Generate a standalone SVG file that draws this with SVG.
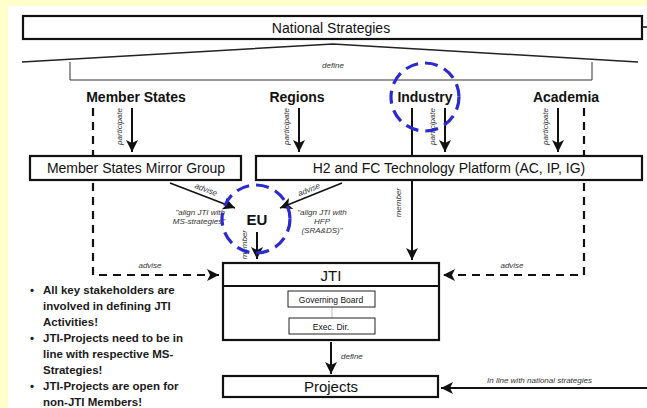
<svg xmlns="http://www.w3.org/2000/svg" width="647" height="408" viewBox="0 0 647 408">
<defs>
<style>
text{font-family:"Liberation Sans",Arial,sans-serif;fill:#111}
.box{fill:#fff;stroke:#111;stroke-width:2.2}
.thin{fill:#fff;stroke:#222;stroke-width:1}
.ln{fill:none;stroke:#111;stroke-width:2}
.dash{fill:none;stroke:#111;stroke-width:2.2;stroke-dasharray:8 6}
.lbl{font-size:14px;text-anchor:middle}
.hd{font-size:14px;font-weight:bold;text-anchor:middle}
.sm{font-size:8px;font-style:italic;fill:#333}
.blue{fill:none;stroke:#2a2ad0;stroke-width:3.2;stroke-dasharray:13 7}
.bul{font-size:11.5px;font-weight:bold;fill:#1a1a1a}
</style>
<marker id="ah" markerUnits="userSpaceOnUse" markerWidth="14" markerHeight="12" refX="12" refY="6" orient="auto">
<path d="M0,0 L12,6 L0,12 L3,6 z" fill="#111"/>
</marker>
</defs>
<rect x="0" y="0" width="647" height="408" fill="#ffffcc"/>
<rect x="8" y="6" width="639" height="402" fill="#fff"/>

<g id="national">
<rect class="box" x="23" y="16" width="619" height="23"/>
<text class="lbl" x="331" y="33">National Strategies</text>
<line x1="642" y1="27" x2="647" y2="27" stroke="#111" stroke-width="1.5"/>
</g>

<g id="stakeholders">
<text class="hd" x="136" y="102">Member States</text>
<text class="hd" x="297" y="102">Regions</text>
<text class="hd" x="425" y="102">Industry</text>
<text class="hd" x="566" y="102">Academia</text>
</g>

<g id="msmg">
<rect class="box" x="30" y="156" width="211" height="24"/>
<text class="lbl" x="136" y="173">Member States Mirror Group</text>
</g>

<g id="platform">
<rect class="box" x="256" y="156" width="386" height="24"/>
<text class="lbl" x="449" y="173">H2 and FC Technology Platform (AC, IP, IG)</text>
</g>

<g id="eu">
<text class="hd" x="257" y="225" style="font-size:15px">EU</text>
</g>

<g id="jti">
<rect class="box" x="223" y="263" width="216" height="77"/>
<line x1="223" y1="286" x2="439" y2="286" stroke="#111" stroke-width="2.2"/>
<text class="lbl" x="331" y="281" style="font-size:15px">JTI</text>
<line x1="332" y1="307" x2="332" y2="318" stroke="#bbb" stroke-width="1"/>
<g id="board">
<rect class="thin" x="288" y="291" width="87" height="16"/>
<text x="331" y="302.5" style="font-size:8.5px;text-anchor:middle">Governing Board</text>
</g>
<g id="execdir">
<rect class="thin" x="289" y="318" width="86" height="16"/>
<text x="331" y="329.5" style="font-size:8.5px;text-anchor:middle">Exec. Dir.</text>
</g>
</g>

<g id="projects">
<rect class="box" x="223" y="376" width="215" height="21"/>
<text class="lbl" x="331" y="392" style="font-size:15px">Projects</text>
</g>

<g id="connectors">
<polyline fill="none" stroke="#222" stroke-width="1.5" points="22,62 333,44 638,62"/>
<polyline fill="none" stroke="#333" stroke-width="1" points="70,62 70,80 592,80 592,62"/>
<text class="sm" x="333" y="68" text-anchor="middle">define</text>

<line class="ln" x1="132" y1="108" x2="132" y2="152" marker-end="url(#ah)"/>
<line class="ln" x1="299" y1="108" x2="299" y2="152" marker-end="url(#ah)"/>
<line class="ln" x1="445" y1="108" x2="445" y2="152" marker-end="url(#ah)"/>
<line class="ln" x1="558" y1="108" x2="558" y2="152" marker-end="url(#ah)"/>
<text class="sm" transform="translate(122,108) rotate(-90)" text-anchor="end">participate</text>
<text class="sm" transform="translate(289,108) rotate(-90)" text-anchor="end">participate</text>
<text class="sm" transform="translate(435,108) rotate(-90)" text-anchor="end">participate</text>
<text class="sm" transform="translate(548,108) rotate(-90)" text-anchor="end">participate</text>

<line class="ln" x1="412" y1="108" x2="412" y2="156"/>
<line class="ln" x1="412" y1="180" x2="412" y2="260" marker-end="url(#ah)"/>
<text class="sm" transform="translate(401,188) rotate(-90)" text-anchor="end">member</text>

<polyline class="dash" points="93,108 93,156"/>
<polyline class="dash" points="93,183 93,275 219,275" marker-end="url(#ah)"/>
<text class="sm" x="150" y="268" text-anchor="middle">advise</text>

<polyline class="dash" points="584,108 584,156"/>
<polyline class="dash" points="584,183 584,275 443,275" marker-end="url(#ah)"/>
<text class="sm" x="512" y="268" text-anchor="middle">advise</text>

<line x1="170" y1="183" x2="235" y2="208" stroke="#111" stroke-width="1.5" marker-end="url(#ah)"/>
<text class="sm" transform="translate(205,192) rotate(21)" text-anchor="middle">advise</text>
<text class="sm" x="225" y="215" text-anchor="end">"align JTI with</text>
<text class="sm" x="225" y="224" text-anchor="end">MS-strategies"</text>

<line x1="342" y1="183" x2="280" y2="208" stroke="#111" stroke-width="1.5" marker-end="url(#ah)"/>
<text class="sm" transform="translate(310,192) rotate(-22)" text-anchor="middle">advise</text>
<text class="sm" x="322" y="215" text-anchor="middle">"align JTI with</text>
<text class="sm" x="322" y="224" text-anchor="middle">HFP</text>
<text class="sm" x="322" y="233" text-anchor="middle">(SRA&amp;DS)"</text>

<line class="ln" x1="257" y1="232" x2="257" y2="259" marker-end="url(#ah)"/>
<text class="sm" transform="translate(247,230) rotate(-90)" text-anchor="end">member</text>

<line class="ln" x1="331" y1="342" x2="331" y2="374" marker-end="url(#ah)"/>
<text class="sm" x="341" y="359">define</text>

<line class="ln" x1="647" y1="388" x2="441" y2="388" marker-end="url(#ah)"/>
<text class="sm" x="487" y="383">In line with national strategies</text>
</g>

<g id="highlights">
<ellipse class="blue" cx="425" cy="97" rx="34" ry="34"/>
<ellipse class="blue" cx="256" cy="219" rx="34" ry="34"/>
</g>

<g id="bullets">
<text class="bul" x="30" y="294">•</text>
<text class="bul" x="43" y="294">All key stakeholders are</text>
<text class="bul" x="43" y="310">involved in defining JTI</text>
<text class="bul" x="43" y="326">Activities!</text>
<text class="bul" x="30" y="342">•</text>
<text class="bul" x="43" y="342">JTI-Projects need to be in</text>
<text class="bul" x="43" y="358">line with respective MS-</text>
<text class="bul" x="43" y="374">Strategies!</text>
<text class="bul" x="30" y="390">•</text>
<text class="bul" x="43" y="390">JTI-Projects are open for</text>
<text class="bul" x="43" y="406">non-JTI Members!</text>
</g>
</svg>
